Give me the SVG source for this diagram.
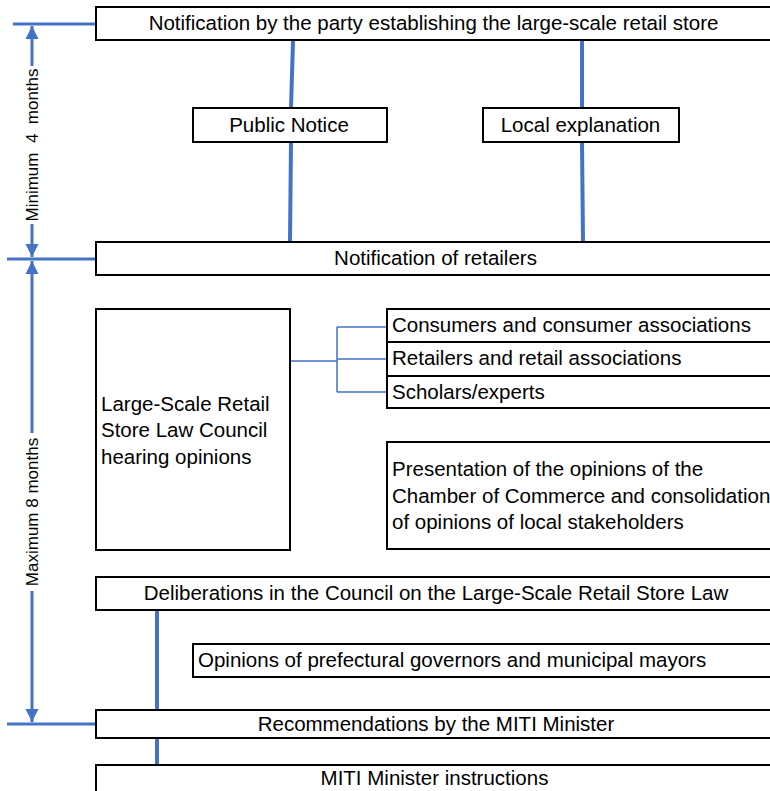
<svg xmlns="http://www.w3.org/2000/svg" width="770" height="791" viewBox="0 0 770 791">
  <defs>
    <style>
      .box { fill: #fff; stroke: #000; stroke-width: 2; }
      .t { font-family: "Liberation Sans", Arial, sans-serif; font-size: 20.5px; fill: #000; }
      .c { text-anchor: middle; }
      .dim { font-family: "Liberation Sans", Arial, sans-serif; font-size: 17px; fill: #000; text-anchor: middle; }
      .link { stroke: #4472C4; stroke-width: 4; fill: none; }
      .thin { stroke: #4472C4; stroke-width: 1.5; fill: none; }
      .dimline { stroke: #4472C4; stroke-width: 3; fill: none; }
    </style>
    <marker id="arr" viewBox="0 0 10 10" refX="10" refY="5" markerWidth="4.4" markerHeight="4.4" orient="auto">
      <path d="M0,0 L10,5 L0,10 Z" fill="#4472C4"/>
    </marker>
  </defs>
  <rect width="770" height="791" fill="#fff"/>

  <!-- connectors -->
  <g id="connectors">
    <line class="link" x1="293" y1="41" x2="291" y2="108"/>
    <line class="link" x1="291" y1="142" x2="290" y2="242"/>
    <line class="link" x1="582" y1="41" x2="582" y2="108"/>
    <line class="link" x1="582" y1="142" x2="583" y2="242"/>
    <path class="thin" d="M290,361 H337 M337,327 V392 M337,327 H387 M337,359 H387 M337,392 H387"/>
    <line class="link" x1="157" y1="611" x2="157" y2="710"/>
    <line class="link" x1="157" y1="738" x2="157" y2="764"/>
  </g>

  <!-- period dimensions on the left -->
  <g id="dimensions">
    <line class="dimline" x1="13" y1="24" x2="96" y2="24"/>
    <line class="dimline" x1="7" y1="259" x2="96" y2="259"/>
    <line class="dimline" x1="7" y1="724" x2="96" y2="724"/>
    <line class="dimline" x1="32" y1="66" x2="32" y2="26" marker-end="url(#arr)"/>
    <line class="dimline" x1="32" y1="224" x2="32" y2="257" marker-end="url(#arr)"/>
    <line class="dimline" x1="32" y1="433" x2="32" y2="261" marker-end="url(#arr)"/>
    <line class="dimline" x1="32" y1="591" x2="32" y2="722" marker-end="url(#arr)"/>
    <text class="dim" transform="translate(38,145) rotate(-90)" xml:space="preserve">Minimum  4  months</text>
    <text class="dim" transform="translate(38,512) rotate(-90)">Maximum 8 months</text>
  </g>

  <g id="n-notification">
    <rect class="box" x="96" y="7" width="690" height="33"/>
    <text class="t c" x="433.5" y="30">Notification by the party establishing the large-scale retail store</text>
  </g>
  <g id="n-public-notice">
    <rect class="box" x="193" y="108" width="194" height="34"/>
    <text class="t c" x="289" y="132">Public Notice</text>
  </g>
  <g id="n-local-explanation">
    <rect class="box" x="483" y="108" width="196" height="34"/>
    <text class="t c" x="580.5" y="132">Local explanation</text>
  </g>
  <g id="n-retailers-notice">
    <rect class="box" x="96" y="242" width="690" height="33"/>
    <text class="t c" x="435.5" y="265">Notification of retailers</text>
  </g>
  <g id="n-council-hearing">
    <rect class="box" x="96" y="309" width="194" height="241"/>
    <text class="t" x="101" y="411">Large-Scale Retail</text>
    <text class="t" x="101" y="437">Store Law Council</text>
    <text class="t" x="101" y="464">hearing opinions</text>
  </g>
  <g id="n-consumers">
    <rect class="box" x="387" y="309" width="400" height="33"/>
    <text class="t" x="392" y="332">Consumers and consumer associations</text>
  </g>
  <g id="n-retail-assoc">
    <rect class="box" x="387" y="342" width="400" height="34"/>
    <text class="t" x="392" y="365">Retailers and retail associations</text>
  </g>
  <g id="n-scholars">
    <rect class="box" x="387" y="376" width="400" height="32"/>
    <text class="t" x="392" y="399">Scholars/experts</text>
  </g>
  <g id="n-chamber">
    <rect class="box" x="387" y="442" width="400" height="107"/>
    <text class="t" x="392" y="476">Presentation of the opinions of the</text>
    <text class="t" x="392" y="503">Chamber of Commerce and consolidation</text>
    <text class="t" x="392" y="529">of opinions of local stakeholders</text>
  </g>
  <g id="n-deliberations">
    <rect class="box" x="96" y="577" width="690" height="33"/>
    <text class="t c" x="436" y="600">Deliberations in the Council on the Large-Scale Retail Store Law</text>
  </g>
  <g id="n-governors">
    <rect class="box" x="193" y="644" width="590" height="33"/>
    <text class="t" x="198" y="667">Opinions of prefectural governors and municipal mayors</text>
  </g>
  <g id="n-recommendations">
    <rect class="box" x="96" y="710" width="690" height="28"/>
    <text class="t c" x="436" y="731">Recommendations by the MITI Minister</text>
  </g>
  <g id="n-instructions">
    <rect class="box" x="96" y="765" width="690" height="40"/>
    <text class="t c" x="434.5" y="785">MITI Minister instructions</text>
  </g>
</svg>
